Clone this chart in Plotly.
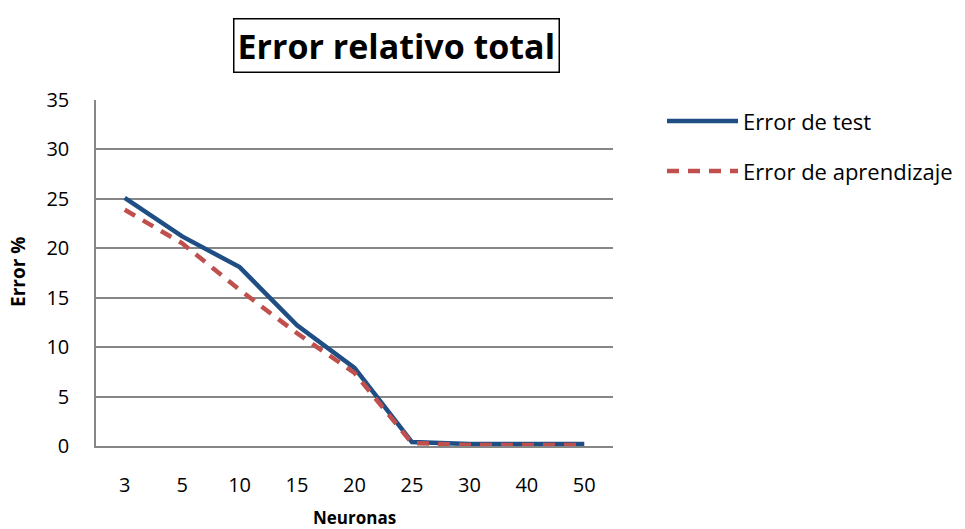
import plotly.graph_objects as go

neuronas = ["3", "5", "10", "15", "20", "25", "30", "40", "50"]
error_test = [25.1, 21.2, 18.1, 12.2, 7.9, 0.4, 0.2, 0.2, 0.2]
error_aprendizaje = [23.9, 20.5, 15.8, 11.4, 7.4, 0.3, 0.1, 0.1, 0.1]
y_ticks = [0, 5, 10, 15, 20, 25, 30, 35]

W, H = 965, 529
L, R, T, B = 96, 613, 100, 446  # plot area in pixels

def px(x):
    return (x - L) / (R - L)

def py(y):
    return (B - y) / (B - T)

FONT = "Open Sans"
BLUE = "#1F4E85"
RED = "#C0504D"

fig = go.Figure()
fig.add_trace(go.Scatter(x=neuronas, y=error_test, mode="lines", name="Error de test",
                         line=dict(color=BLUE, width=4.5), showlegend=False))
fig.add_trace(go.Scatter(x=neuronas, y=error_aprendizaje, mode="lines", name="Error de aprendizaje",
                         line=dict(color=RED, width=4.5, dash="12px,9px"), showlegend=False))

fig.update_layout(
    width=W, height=H,
    margin=dict(l=L, r=W - R, t=T, b=H - B, pad=0),
    paper_bgcolor="white", plot_bgcolor="white",
    font=dict(family=FONT, size=20, color="black"),
    xaxis=dict(type="category", range=[-0.5, len(neuronas) - 0.5], showgrid=False, showline=True,
               linecolor="#868686", linewidth=1.5, ticks="", tickfont=dict(size=20),
               ticklabelstandoff=20, zeroline=False),
    yaxis=dict(range=[0, 35], tickvals=y_ticks, showgrid=True, gridcolor="#868686", gridwidth=1.5,
               showline=True, linecolor="#868686", linewidth=1.5, ticks="", zeroline=False,
               tickfont=dict(size=20), ticklabelstandoff=21),
)

# Title box
fig.add_annotation(xref="paper", yref="paper", x=px(396), y=py(46), text="<b>Error relativo total</b>",
                   showarrow=False, font=dict(size=34, family=FONT, color="black"),
                   bordercolor="black", borderwidth=1.5, borderpad=3, bgcolor="white",
                   xanchor="center", yanchor="middle")
# Axis titles
fig.add_annotation(xref="paper", yref="paper", x=px(18), y=py(272), text="<b>Error %</b>",
                   showarrow=False, textangle=-90, font=dict(size=19, family=FONT),
                   xanchor="center", yanchor="middle")
fig.add_annotation(xref="paper", yref="paper", x=px(354), y=py(517), text="<b>Neuronas</b>",
                   showarrow=False, font=dict(size=17, family=FONT),
                   xanchor="center", yanchor="middle")

# Custom legend
legend_items = [("Error de test", BLUE, "solid", 121), ("Error de aprendizaje", RED, "12px,9px", 171)]
for name, color, dash, yy in legend_items:
    fig.add_shape(type="line", xref="paper", yref="paper", x0=px(667), x1=px(738), y0=py(yy), y1=py(yy),
                  line=dict(color=color, width=4.5, dash=dash))
    fig.add_annotation(xref="paper", yref="paper", x=px(741), y=py(yy), text=name, showarrow=False,
                       font=dict(size=22, family=FONT), xanchor="left", yanchor="middle")

fig.write_html("out.html")
